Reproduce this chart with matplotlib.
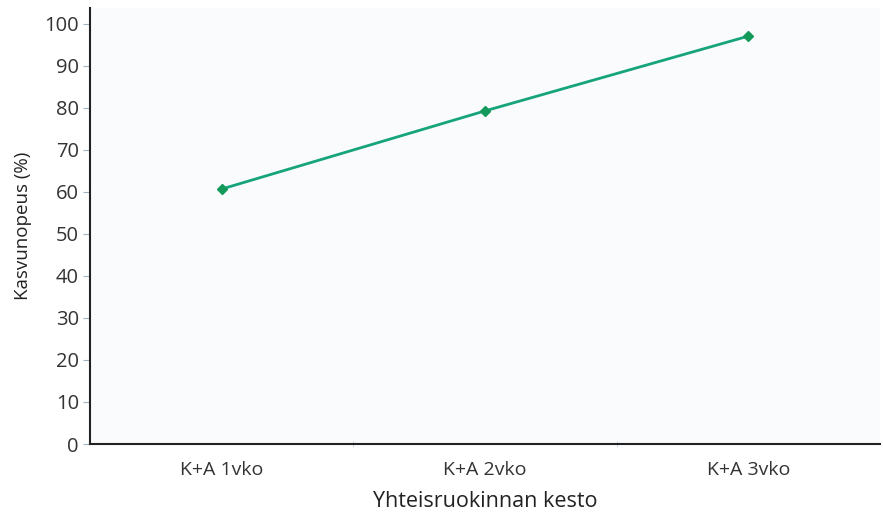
import matplotlib.pyplot as plt
import numpy as np

# Data
categories = ["K+A 1vko", "K+A 2vko", "K+A 3vko"]
growth = [60.7, 79.3, 97.1]

plt.rcParams['font.family'] = ['Open Sans', 'DejaVu Sans']

fig = plt.figure(figsize=(8.83, 5.12), dpi=100)
ax = fig.add_axes([90/883, 1 - 444/512, 790/883, 436/512])
ax.set_facecolor('#fafbfd')

x = np.arange(len(categories))
ax.plot(x, growth, color='#16a47a', lw=2, marker='D', ms=5, mfc='#139a5a', mec='#139a5a')

ax.set_xlim(-0.5, 2.5)
ax.set_ylim(0, 103.8)
ax.set_yticks(range(0, 101, 10))
ax.set_xticks(x)
ax.set_xticklabels(categories)
ax.set_xticks([0.5, 1.5], minor=True)
ax.tick_params(axis='x', which='major', length=0, pad=12, labelsize=14, colors='#333333')
ax.tick_params(axis='x', which='minor', length=5, color='#c5d3dd', direction='inout')
ax.tick_params(axis='y', length=5, color='#a0b0bc', labelsize=14.5, labelcolor='#333333', pad=3)

for s in ['top', 'right']:
    ax.spines[s].set_visible(False)
ax.spines['left'].set_color('#222222')
ax.spines['bottom'].set_color('#222222')
ax.spines['left'].set_linewidth(1.5)
ax.spines['bottom'].set_linewidth(1.5)

ax.set_xlabel("Yhteisruokinnan kesto", fontsize=15.5, color='#222222', labelpad=9)
ax.set_ylabel("Kasvunopeus (%)", fontsize=13.5, color='#222222', labelpad=9)

fig.savefig('out.png', dpi=100)
